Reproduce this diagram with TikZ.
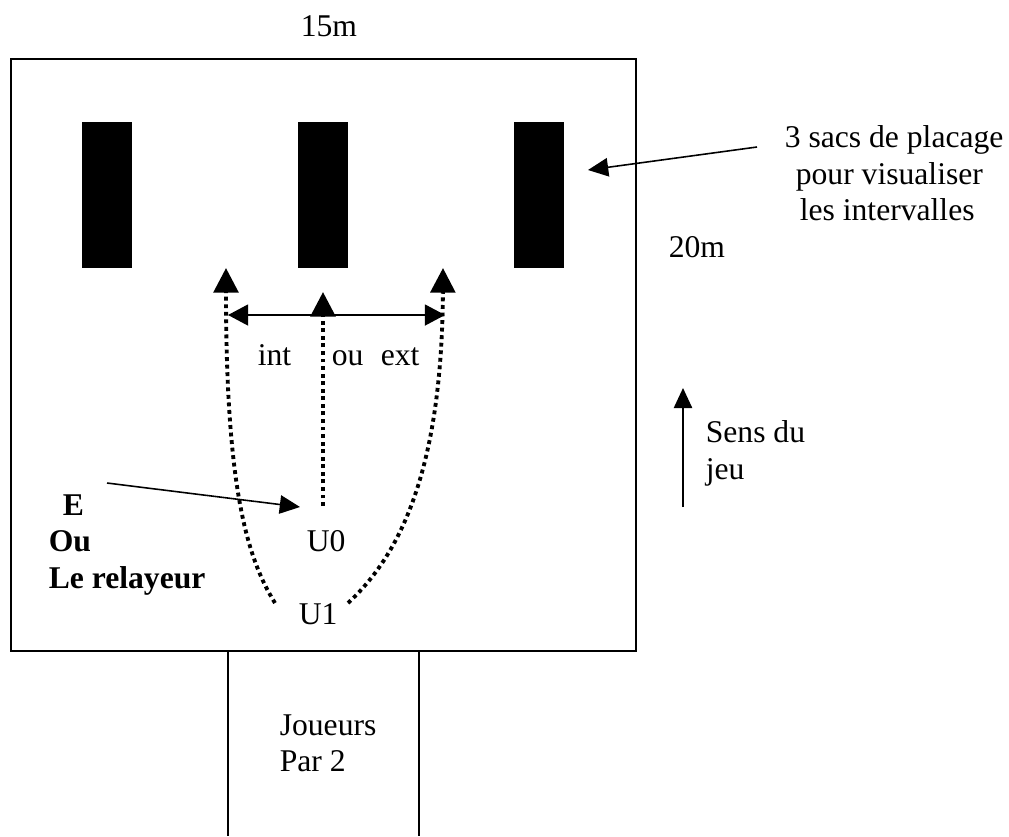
\documentclass[tikz,border=0pt]{standalone}
\usepackage{fontspec}
\setmainfont{Liberation Serif}
\usetikzlibrary{arrows.meta}

\begin{document}
\begin{tikzpicture}[x=0.2mm, y=-0.2mm, line width=0.9pt,
  txt/.style={inner sep=0pt, font=\fontsize{18}{20.7}\selectfont},
  pointille/.style={line width=2.2pt, dash pattern=on 2.2pt off 2.1pt},
  grande/.style={-{Triangle[length=14pt,width=14pt]}},
  petite/.style={-{Triangle[length=11.5pt,width=10.5pt]}},
  double/.style={{Triangle[length=11.5pt,width=12pt]}-{Triangle[length=11.5pt,width=12pt]}}]
\useasboundingbox (0,0) rectangle (1009,836);
% terrain
\draw (11,59) rectangle (636,651);
\draw (228,651)--(228,836) (419,651)--(419,836);
% sacs
\foreach \x in {82,298,514} \fill (\x,122) rectangle +(50,146);
% textes
\node[txt, anchor=base west] (larg) at (300,36) {15m};
\node[txt, anchor=base west] (long) at (668,257) {20m};
\node[txt, anchor=north west, align=left] (sacs) at (784,125)
  {3 sacs de placage\\\hspace*{0.22cm}pour visualiser\\\hspace*{0.3cm}les intervalles};
\node[txt, font=\fontsize{18}{20.7}\selectfont\bfseries, anchor=north west, align=left] (relay) at (48,494)
  {\hspace*{0.28cm}E\\Ou\\Le relayeur};
\node[txt, anchor=base west] (int) at (257,365) {int};
\node[txt, anchor=base west] (ou) at (331,365) {ou};
\node[txt, anchor=base west] (ext) at (380,365) {ext};
\node[txt, anchor=base west] (U0) at (306,551) {U0};
\node[txt, anchor=base west] (U1) at (298,624) {U1};
\node[txt, anchor=north west, align=left] (sens) at (705,420) {Sens du\\jeu};
\node[txt, anchor=north west, align=left] (joueurs) at (279,714) {Joueurs\\Par 2};
% points de passage
\coordinate (sacsdep) at (757,147);
\coordinate (sacsfin) at (588,170);
\coordinate (relaydep) at (107,483);
\coordinate (relayfin) at (300,507);
\coordinate (sensdep) at (683,507);
\coordinate (sensfin) at (683,388);
\coordinate (g0) at (275,603);
\coordinate (g1) at (226,268);
\coordinate (c0) at (323,506);
\coordinate (c1) at (323,292);
\coordinate (d0) at (348,603);
\coordinate (d1) at (443,268);
\coordinate (int1) at (228,315);
\coordinate (ext1) at (445,315);
% courses
\draw[pointille, grande] (g0) .. controls (245,555) and (226,480) .. (g1);
\draw[pointille, grande] (c0) -- (c1);
\draw[pointille, grande] (d0) .. controls (400,555) and (442,470) .. (d1);
\draw[double] (int1) -- (ext1);
% fleches
\draw[petite] (sacsdep) -- (sacsfin);
\draw[petite] (relaydep) -- (relayfin);
\draw[petite] (sensdep) -- (sensfin);
\end{tikzpicture}
\end{document}
